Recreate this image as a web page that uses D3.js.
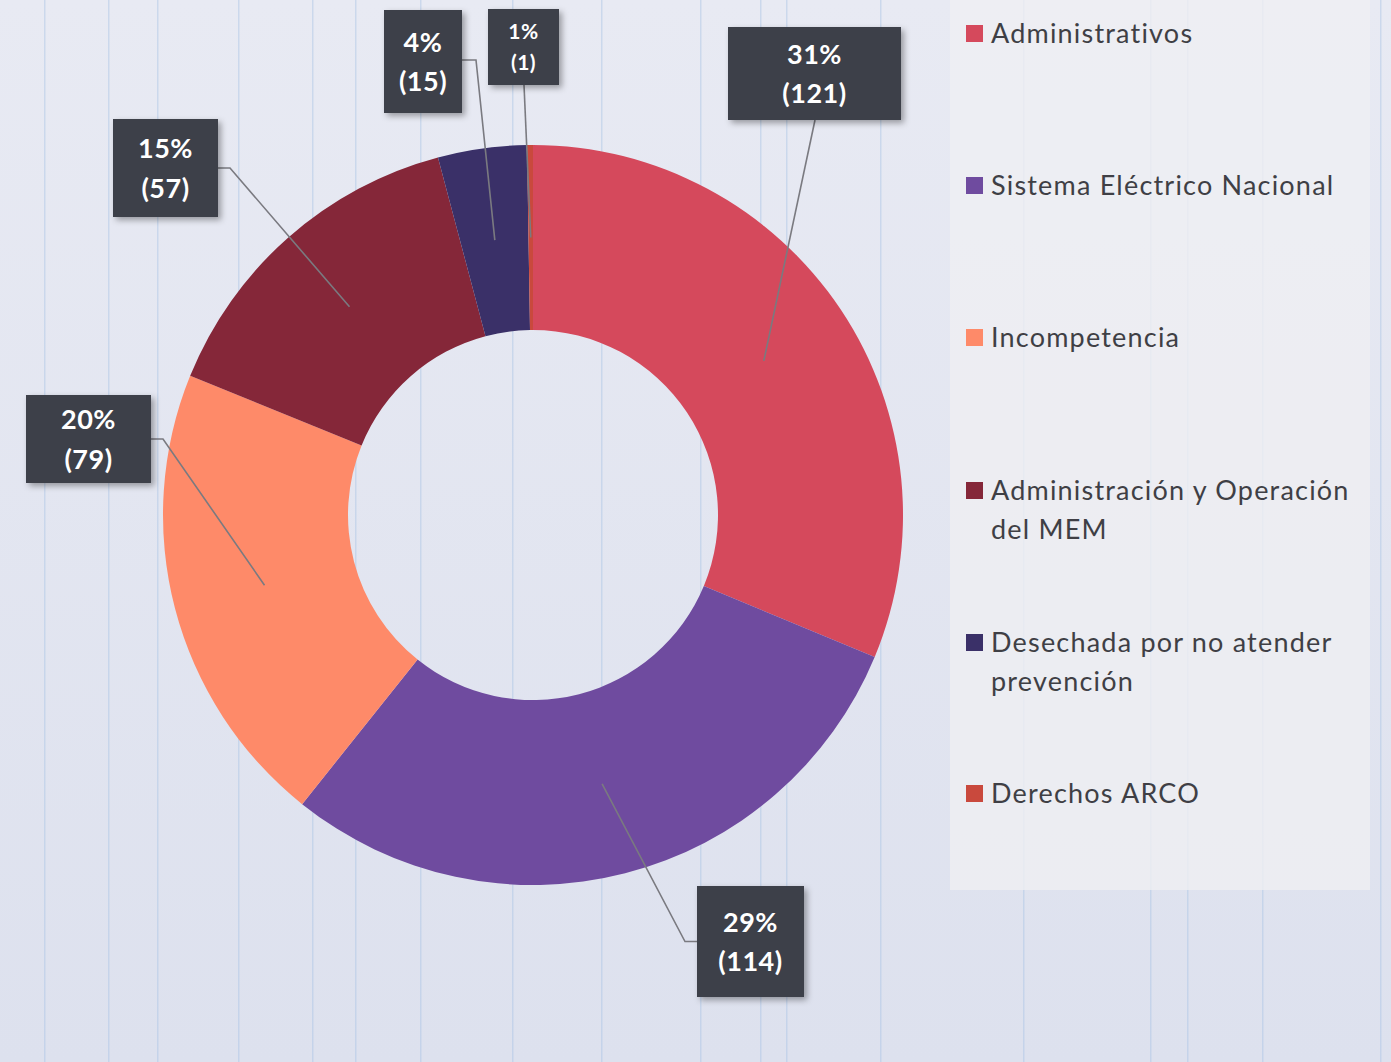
<!DOCTYPE html>
<html>
<head>
<meta charset="utf-8">
<script src="https://cdn.jsdelivr.net/npm/d3@7"></script>
<style>
  body { margin: 0; background: #e6e8f0; }
  svg { display: block; }
</style>
</head>
<body>
<div id="chart"></div>
<script>
var svgWidth = 1391;
var svgHeight = 1062;

// data
var categories = ["Administrativos", "Sistema Eléctrico Nacional", "Incompetencia",
    "Administración y Operación del MEM", "Desechada por no atender prevención", "Derechos ARCO"];
var counts = [121, 114, 79, 57, 15, 1];
var pctLabels = ["31%", "29%", "20%", "15%", "4%", "1%"];
var legendLines = [["Administrativos"], ["Sistema Eléctrico Nacional"], ["Incompetencia"],
    ["Administración y Operación", "del MEM"], ["Desechada por no atender", "prevención"], ["Derechos ARCO"]];
var colors = ["#d5495c", "#6f4b9f", "#fe8a69", "#852739", "#3a3068", "#c9493d"];

// label box layout (box x, y, w, h, elbow x, font size)
var boxes = [
    {x: 728, y: 27, w: 173, h: 93, fs: 27},
    {x: 697, y: 886, w: 107, h: 111, fs: 27, elbow: 685},
    {x: 26, y: 395, w: 125, h: 88, fs: 27, elbow: 163},
    {x: 113, y: 119, w: 105, h: 98, fs: 27, elbow: 230},
    {x: 384, y: 10, w: 78, h: 103, fs: 27, elbow: 476},
    {x: 488, y: 9, w: 71, h: 76, fs: 21}
];

var cx = 533, cy = 515, outerR = 370, innerR = 185;

var svg = d3.select("#chart")
    .append("svg")
    .attr("width", svgWidth)
    .attr("height", svgHeight);

var defs = svg.append("defs");
var bg = defs.append("linearGradient").attr("id", "bg").attr("x1", 0).attr("x2", 0).attr("y1", 0).attr("y2", 1);
bg.append("stop").attr("offset", "0%").attr("stop-color", "#e8eaf3");
bg.append("stop").attr("offset", "100%").attr("stop-color", "#dde1ee");

var shadow = defs.append("filter").attr("id", "shadow").attr("x", "-20%").attr("y", "-20%").attr("width", "150%").attr("height", "150%");
shadow.append("feDropShadow").attr("dx", 3).attr("dy", 3).attr("stdDeviation", 3).attr("flood-color", "#000").attr("flood-opacity", 0.35);

svg.append("rect").attr("width", svgWidth).attr("height", svgHeight).attr("fill", "url(#bg)");

// scan streaks
var streaks = [44, 108, 157, 238, 312, 355, 420, 512, 601, 700, 760, 786, 880, 1023, 1150, 1187, 1262, 1380];
svg.selectAll(".streak")
    .data(streaks)
    .enter()
    .append("rect")
    .attr("x", d => d)
    .attr("y", 0)
    .attr("width", 1.5)
    .attr("height", svgHeight)
    .attr("fill", "#a9c4e4")
    .attr("opacity", 0.45);

// legend panel
svg.append("rect")
    .attr("x", 950).attr("y", 0).attr("width", 420).attr("height", 890)
    .attr("fill", "#efeff3").attr("opacity", 0.8);

var pie = d3.pie().sort(null).value(d => d);
var arcs = pie(counts);
var arc = d3.arc().innerRadius(innerR).outerRadius(outerR);

var chartGroup = svg.append("g").attr("transform", `translate(${cx}, ${cy})`);

chartGroup.selectAll("path")
    .data(arcs)
    .enter()
    .append("path")
    .attr("d", arc)
    .attr("fill", (d, i) => colors[i]);

// leader lines
svg.selectAll(".leader")
    .data(arcs)
    .enter()
    .append("polyline")
    .attr("fill", "none")
    .attr("stroke", "#7a7a80")
    .attr("stroke-width", 1.6)
    .attr("points", function (d, i) {
        var c = arc.centroid(d);
        var sx = cx + c[0], sy = cy + c[1];
        var b = boxes[i];
        if (i === 0) return [[sx, sy], [b.x + 87, b.y + b.h]].join(" ");
        if (i === 5) return [[sx, sy], [b.x + 36, b.y + b.h]].join(" ");
        var ey = b.y + b.h / 2;
        var ex = b.elbow;
        var bx = i === 1 ? b.x : b.x + b.w;
        if (i === 4) ey = 60;
        return [[sx, sy], [ex, ey], [bx, ey]].join(" ");
    });

// label boxes
var labelG = svg.selectAll(".lbl")
    .data(arcs)
    .enter()
    .append("g")
    .attr("transform", (d, i) => `translate(${boxes[i].x}, ${boxes[i].y})`);

labelG.append("rect")
    .attr("width", (d, i) => boxes[i].w)
    .attr("height", (d, i) => boxes[i].h)
    .attr("fill", "#3c3f48")
    .attr("filter", "url(#shadow)");

labelG.append("text")
    .attr("x", (d, i) => boxes[i].w / 2)
    .attr("y", (d, i) => boxes[i].h / 2 - boxes[i].fs * 0.36)
    .attr("text-anchor", "middle")
    .attr("font-family", "Lato, 'Open Sans', sans-serif")
    .attr("font-weight", "bold")
    .attr("font-size", (d, i) => boxes[i].fs + "px")
    .attr("letter-spacing", "0.5px")
    .attr("fill", "#ffffff")
    .text((d, i) => pctLabels[i]);

labelG.append("text")
    .attr("x", (d, i) => boxes[i].w / 2)
    .attr("y", (d, i) => boxes[i].h / 2 + boxes[i].fs * 1.1)
    .attr("text-anchor", "middle")
    .attr("font-family", "Lato, 'Open Sans', sans-serif")
    .attr("font-weight", "bold")
    .attr("font-size", (d, i) => boxes[i].fs + "px")
    .attr("letter-spacing", "0.5px")
    .attr("fill", "#ffffff")
    .text((d, i) => "(" + counts[i] + ")");

// legend
var legendY = [33, 185, 337, 490, 642, 793];
var legend = svg.selectAll(".legend")
    .data(categories)
    .enter()
    .append("g")
    .attr("transform", (d, i) => `translate(966, ${legendY[i]})`);

legend.append("rect")
    .attr("x", 0).attr("y", -8)
    .attr("width", 17).attr("height", 17)
    .attr("fill", (d, i) => colors[i]);

legend.each(function (d, i) {
    var t = d3.select(this).append("text")
        .attr("font-family", "Lato, 'Open Sans', sans-serif")
        .attr("font-size", "27px")
        .attr("letter-spacing", "1.2px")
        .attr("fill", "#3f3f45");
    legendLines[i].forEach(function (line, j) {
        t.append("tspan")
            .attr("x", 25)
            .attr("y", 10 + j * 39)
            .text(line);
    });
});
</script>
</body>
</html>
